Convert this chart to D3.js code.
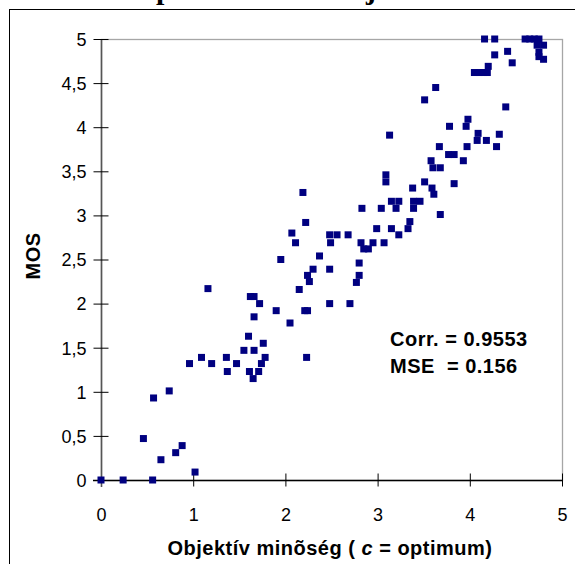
<!DOCTYPE html>
<html>
<head>
<meta charset="utf-8">
<script src="https://cdn.jsdelivr.net/npm/d3@7/dist/d3.min.js"></script>
<style>
  html, body { margin: 0; padding: 0; background: #fff; }
  svg { display: block; }
</style>
</head>
<body>
<svg id="chart" width="575" height="564"></svg>
<script>
// ---- data ----
const titleText = "Kompresszió szubjektív értékelése";
const xLabel = "Objektív minõség ( ";
const xLabelItalic = "c";
const xLabelEnd = " = optimum)";
const yLabel = "MOS";
const annotations = ["Corr. = 0.9553", "MSE  = 0.156"];
const xTicks = [0, 1, 2, 3, 4, 5];
const yTicks = [0, 0.5, 1, 1.5, 2, 2.5, 3, 3.5, 4, 4.5, 5];
const yTickLabels = ["0", "0,5", "1", "1,5", "2", "2,5", "3", "3,5", "4", "4,5", "5"];

const objective = [
  0, 0.24, 0.56,
  1.02, 0.65, 0.81, 0.88, 0.46, 0.57, 0.74,
  1.65, 1.37, 1.61, 1.71, 0.96, 1.20, 1.47, 1.74, 1.09, 1.36, 1.78, 2.23, 1.55, 1.66, 1.76, 1.60, 2.05, 1.66, 1.90, 2.21, 2.24, 1.72, 1.62, 1.66, 1.16, 2.15,
  2.77, 2.26, 2.24, 2.80, 2.30, 2.48, 2.80, 1.95, 2.37, 2.85, 2.90, 2.11, 2.49, 2.82, 2.95, 3.07, 2.48, 2.56, 2.68, 3.23, 2.07, 2.99, 3.15, 3.33, 2.22, 3.35, 3.68, 2.83, 3.04, 3.20, 3.39, 3.15, 3.23, 3.39, 3.46, 3.61, 2.19, 3.38, 3.59, 3.83, 3.09, 3.51, 3.09, 3.60, 3.68, 3.58, 3.93, 3.77, 3.83, 3.67, 3.97, 4.29, 4.08, 4.18, 3.13, 4.09, 4.32, 3.78, 3.96, 3.98, 4.39, 3.51, 3.63,
  4.05, 4.10, 4.15, 4.19, 4.20, 4.46, 4.80, 4.75, 4.27, 4.75, 4.41, 4.73, 4.80, 4.16, 4.27, 4.60, 4.65, 4.70, 4.75,
  2.48, 2.70
];
const mos = [
  0, 0, 0,
  0.09, 0.23, 0.31, 0.39, 0.47, 0.93, 1.01,
  1.15, 1.23, 1.23, 1.23, 1.32, 1.32, 1.32, 1.32, 1.39, 1.39, 1.39, 1.39, 1.47, 1.47, 1.55, 1.63, 1.78, 1.85, 1.92, 1.92, 1.92, 2.00, 2.08, 2.08, 2.17, 2.16,
  2.24, 2.25, 2.32, 2.32, 2.39, 2.39, 2.46, 2.50, 2.54, 2.62, 2.62, 2.69, 2.69, 2.69, 2.69, 2.69, 2.78, 2.78, 2.78, 2.78, 2.80, 2.85, 2.85, 2.85, 2.92, 2.93, 3.01, 3.08, 3.08, 3.08, 3.08, 3.16, 3.16, 3.16, 3.16, 3.24, 3.26, 3.31, 3.31, 3.36, 3.38, 3.38, 3.46, 3.54, 3.54, 3.62, 3.62, 3.69, 3.69, 3.78, 3.78, 3.78, 3.85, 3.85, 3.91, 3.93, 3.92, 4.01, 4.01, 4.09, 4.23, 4.31, 4.45,
  4.62, 4.62, 4.62, 4.62, 4.69, 4.73, 4.77, 4.80, 4.82, 4.85, 4.86, 4.93, 4.93, 5, 5, 5, 5, 5, 5,
  2.00, 2.00
];

const points = objective.map((v, i) => ({ x: v, y: mos[i] }));

// ---- drawing ----
const svg = d3.select("#chart");
const W = 575, H = 564;
const mLeft = 101, mRight = 562, mTop = 39, mBottom = 480;
const sans = "'Liberation Sans', Arial, sans-serif";

svg.append("rect").attr("width", W).attr("height", H).attr("fill", "#fff");

// outer chart frame (extends past the visible window)
svg.append("rect")
  .attr("x", 9.5).attr("y", 9.5)
  .attr("width", W + 20).attr("height", H + 20)
  .attr("fill", "none").attr("stroke", "#000").attr("stroke-width", 1);

// title: sits above the visible window, only descenders show
const title = svg.append("text")
  .attr("y", -1.5)
  .attr("font-family", "'Liberation Serif', 'Times New Roman', serif")
  .attr("font-weight", "bold")
  .attr("font-size", 30)
  .attr("fill", "#000")
  .text(titleText);
try {
  const node = title.node();
  const pIdx = titleText.indexOf("p");
  const jIdx = titleText.indexOf("j");
  const off = node.getSubStringLength(0, pIdx);
  const d = node.getSubStringLength(pIdx, jIdx - pIdx);
  title.attr("word-spacing", Math.max(0, 210 - d));
  title.attr("x", 156 - off);
} catch (e) { title.attr("x", 100); }

const x = d3.scaleLinear().domain([0, 5]).range([mLeft, mRight]);
const y = d3.scaleLinear().domain([0, 5]).range([mBottom, mTop]);

// plot area border (gray)
svg.append("rect")
  .attr("x", mLeft + 0.5).attr("y", mTop + 0.5)
  .attr("width", mRight - mLeft).attr("height", mBottom - mTop)
  .attr("fill", "none").attr("stroke", "#a6a6a6").attr("stroke-width", 1.3);

// y axis
const yAxis = svg.append("g")
  .attr("transform", `translate(${mLeft + 0.5},0)`)
  .call(d3.axisLeft(y).tickValues(yTicks)
    .tickFormat((d, i) => yTickLabels[i]).tickSizeOuter(0).tickSize(8).tickPadding(7));
yAxis.select(".domain").attr("stroke", "#555").attr("stroke-width", 1.6)
  .attr("d", `M0,${mTop}V${mBottom + 7}`);
yAxis.selectAll(".tick line").attr("stroke", "#000").attr("x1", -8).attr("x2", 7);
yAxis.selectAll(".tick text")
  .attr("font-family", sans)
  .attr("font-size", 18).attr("fill", "#000").attr("dy", "0.35em");

// x axis
const xAxis = svg.append("g")
  .attr("transform", `translate(0,${mBottom + 0.5})`)
  .call(d3.axisBottom(x).tickValues(xTicks).tickFormat(d3.format("d"))
    .tickSizeOuter(0).tickSize(6));
xAxis.select(".domain").attr("stroke", "#000").attr("stroke-width", 1.3)
  .attr("d", `M${mLeft - 8},0H${mRight}`);
xAxis.selectAll(".tick line").attr("stroke", "#000").attr("y1", -7).attr("y2", 6)
  .filter(d => d === 0).remove();
xAxis.selectAll(".tick text")
  .attr("font-family", sans)
  .attr("font-size", 18).attr("fill", "#000")
  .attr("y", 40).attr("dy", "0");

// points
svg.append("g").selectAll("rect")
  .data(points).join("rect")
  .attr("x", d => x(d.x) - 3.5)
  .attr("y", d => y(d.y) - 3.5)
  .attr("width", 7).attr("height", 7)
  .attr("fill", "#000080");

// axis titles
const xt = svg.append("text")
  .attr("x", 330).attr("y", 555)
  .attr("text-anchor", "middle")
  .attr("font-family", sans)
  .attr("font-weight", "bold").attr("font-size", 20)
  .attr("letter-spacing", 0.5).attr("fill", "#000");
xt.append("tspan").text(xLabel);
xt.append("tspan").attr("font-style", "italic").text(xLabelItalic);
xt.append("tspan").text(xLabelEnd);

svg.append("text")
  .attr("transform", `translate(40,256) rotate(-90)`)
  .attr("text-anchor", "middle")
  .attr("font-family", sans)
  .attr("font-weight", "bold").attr("font-size", 20).attr("letter-spacing", 0.5)
  .attr("fill", "#000")
  .text(yLabel);

// annotation
svg.append("g").selectAll("text")
  .data(annotations).join("text")
  .attr("x", 390)
  .attr("y", (d, i) => 346 + i * 27)
  .attr("font-family", sans)
  .attr("font-weight", "bold").attr("font-size", 20).attr("letter-spacing", 0.5)
  .attr("fill", "#000")
  .style("white-space", "pre")
  .text(d => d);
</script>
</body>
</html>
